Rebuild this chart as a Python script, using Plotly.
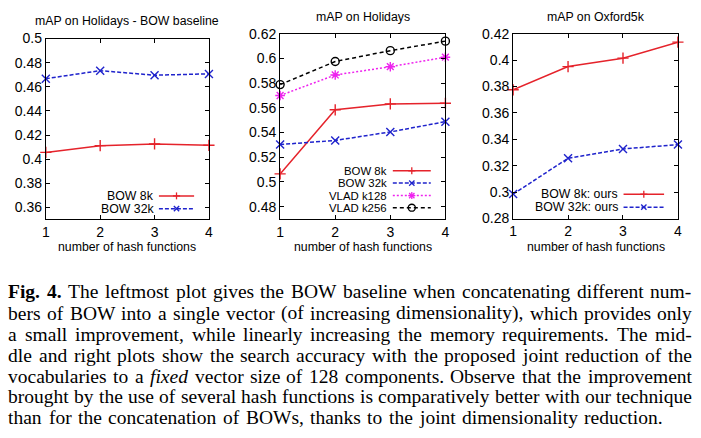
import plotly.graph_objects as go

W, H = 701, 438

# ---------------- data ----------------
hash_funcs = [1, 2, 3, 4]
x_tick_labels = ["1", "2", "3", "4"]

# left: mAP on Holidays - BOW baseline
p1_bow8k = [0.4056, 0.4112, 0.4126, 0.4115]
p1_bow32k = [0.4667, 0.4734, 0.4696, 0.4707]
p1_yticks = [0.36, 0.38, 0.40, 0.42, 0.44, 0.46, 0.48, 0.50]
p1_yticklabels = ["0.36", "0.38", "0.4", "0.42", "0.44", "0.46", "0.48", "0.5"]

# middle: mAP on Holidays
p2_bow8k = [0.5065, 0.5584, 0.5632, 0.5637]
p2_bow32k = [0.5303, 0.5336, 0.5405, 0.5488]
p2_vlad128 = [0.5700, 0.5866, 0.5933, 0.6010]
p2_vlad256 = [0.5788, 0.5975, 0.6063, 0.6140]
p2_yticks = [0.48, 0.50, 0.52, 0.54, 0.56, 0.58, 0.60, 0.62]
p2_yticklabels = ["0.48", "0.5", "0.52", "0.54", "0.56", "0.58", "0.6", "0.62"]

# right: mAP on Oxford5k
p3_bow8k = [0.3775, 0.3951, 0.4015, 0.4136]
p3_bow32k = [0.2985, 0.3256, 0.3327, 0.3360]
p3_yticks = [0.28, 0.30, 0.32, 0.34, 0.36, 0.38, 0.40, 0.42]
p3_yticklabels = ["0.28", "0.3", "0.32", "0.34", "0.36", "0.38", "0.4", "0.42"]

titles = ["mAP on Holidays - BOW baseline", "mAP on Holidays", "mAP on Oxford5k"]
xlabel = "number of hash functions"

caption_lines = [
    "Fig. 4. The leftmost plot gives the BOW baseline when concatenating different num-",
    "bers of BOW into a single vector (of increasing dimensionality), which provides only",
    "a small improvement, while linearly increasing the memory requirements. The mid-",
    "dle and right plots show the search accuracy with the proposed joint reduction of the",
    "vocabularies to a fixed vector size of 128 components. Observe that the improvement",
    "brought by the use of several hash functions is comparatively better with our technique",
    "than for the concatenation of BOWs, thanks to the joint dimensionality reduction.",
]

# ---------------- styles ----------------
RED = "#e5232b"
BLUE = "#1f23cc"
MAG = "#ee22ee"
BLK = "#000000"
styles = {
    "bow8k": dict(color=RED, dash="solid", symbol="cross-thin-open"),
    "bow32k": dict(color=BLUE, dash="4px,2px", symbol="x-thin-open"),
    "vlad128": dict(color=MAG, dash="2px,2px", symbol="asterisk-open"),
    "vlad256": dict(color=BLK, dash="4px,3px", symbol="circle-open"),
}

# panel geometry (pixels)
panels = [
    dict(x0=42.3, x1=207.3, y0=31.7, y1=219.5, yr=[0.35, 0.50], tv=p1_yticks, tt=p1_yticklabels, ty=14.0),
    dict(x0=279.3, x1=446.5, y0=26.7, y1=219.0, yr=[0.47, 0.62], tv=p2_yticks, tt=p2_yticklabels, ty=9.3),
    dict(x0=515.0, x1=681.7, y0=26.7, y1=218.5, yr=[0.28, 0.42], tv=p3_yticks, tt=p3_yticklabels, ty=9.3),
]

series = [
    (1, "BOW 8k", p1_bow8k, "bow8k"),
    (1, "BOW 32k", p1_bow32k, "bow32k"),
    (2, "BOW 8k", p2_bow8k, "bow8k"),
    (2, "BOW 32k", p2_bow32k, "bow32k"),
    (2, "VLAD k128", p2_vlad128, "vlad128"),
    (2, "VLAD k256", p2_vlad256, "vlad256"),
    (3, "BOW 8k: ours", p3_bow8k, "bow8k"),
    (3, "BOW 32k: ours", p3_bow32k, "bow32k"),
]

SANS = "Liberation Sans, Arial, sans-serif"
SERIF = "Liberation Serif, Times New Roman, serif"


def px(x):
    return x / W


def py(y):
    return 1 - y / H


fig = go.Figure()

for pi, name, vals, key in series:
    st = styles[key]
    sfx = "" if pi == 1 else str(pi)
    fig.add_trace(go.Scatter(
        x=hash_funcs, y=vals, name=name, mode="lines+markers",
        xaxis="x" + sfx, yaxis="y" + sfx,
        line=dict(color=st["color"], width=1.5, dash=st["dash"]),
        marker=dict(symbol=st["symbol"], size=8, color=st["color"],
                    line=dict(color=st["color"], width=1.4)),
        cliponaxis=False, showlegend=False,
    ))

layout = dict(
    width=W, height=H, margin=dict(l=0, r=0, t=0, b=0),
    paper_bgcolor="white", plot_bgcolor="white", showlegend=False,
)
annotations = []
shapes = []

for i, p in enumerate(panels, start=1):
    sfx = "" if i == 1 else str(i)
    common = dict(showline=True, linecolor="black", linewidth=1, mirror="ticks",
                  ticks="inside", ticklen=4, tickcolor="black", tickwidth=1,
                  showgrid=False, zeroline=False,
                  tickfont=dict(family=SANS, size=14, color="black"))
    layout["xaxis" + sfx] = dict(common, domain=[px(p["x0"]), px(p["x1"])], range=[1, 4],
                                 tickvals=hash_funcs, ticktext=x_tick_labels,
                                 anchor="y" + sfx)
    layout["yaxis" + sfx] = dict(common, domain=[py(p["y1"]), py(p["y0"])], range=p["yr"],
                                 tickvals=p["tv"], ticktext=p["tt"],
                                 anchor="x" + sfx)
    cx = (p["x0"] + p["x1"]) / 2
    annotations.append(dict(text=titles[i - 1], x=px(cx), y=py(p["ty"]), xref="paper", yref="paper",
                            xanchor="center", yanchor="middle", showarrow=False,
                            font=dict(family=SANS, size=12.3, color="black")))
    annotations.append(dict(text=xlabel, x=px(cx), y=py(247.8), xref="paper", yref="paper",
                            xanchor="center", yanchor="middle", showarrow=False,
                            font=dict(family=SANS, size=12.3, color="black")))

# ---------------- gnuplot-style keys (text, then sample) ----------------
keys = [
    dict(text_r=152.0, l0=156.7, l1=192.3, rows=[195.0, 208.3], fs=12.3,
         ents=[("BOW 8k", "bow8k"), ("BOW 32k", "bow32k")]),
    dict(text_r=387.7, l0=393.3, l1=431.7, rows=[169.0, 181.7, 194.7, 207.3], fs=11.4,
         ents=[("BOW 8k", "bow8k"), ("BOW 32k", "bow32k"), ("VLAD k128", "vlad128"), ("VLAD k256", "vlad256")]),
    dict(text_r=621.0, l0=626.7, l1=667.7, rows=[193.3, 206.7], fs=12.3,
         ents=[("BOW 8k: ours", "bow8k"), ("BOW 32k: ours", "bow32k")]),
]


def seg(xa, ya, xb, yb, color, width=1.3, dash="solid"):
    shapes.append(dict(type="line", xref="paper", yref="paper", x0=px(xa), y0=py(ya), x1=px(xb), y1=py(yb),
                       line=dict(color=color, width=width, dash=dash)))


for k in keys:
    for (label, key), yr in zip(k["ents"], k["rows"]):
        st = styles[key]
        annotations.append(dict(text=label, x=px(k["text_r"]), y=py(yr), xref="paper", yref="paper",
                                xanchor="right", yanchor="middle", showarrow=False, borderpad=0,
                                borderwidth=0, font=dict(family=SANS, size=k["fs"], color="black")))
        seg(k["l0"], yr, k["l1"], yr, st["color"], 1.5, st["dash"])
        mx = (k["l0"] + k["l1"]) / 2
        r = 3.6
        sym = st["symbol"]
        c = st["color"]
        if sym.startswith("cross") or sym.startswith("asterisk"):
            seg(mx - r, yr, mx + r, yr, c)
            seg(mx, yr - r, mx, yr + r, c)
        if sym.startswith("x") or sym.startswith("asterisk"):
            d = r * 0.75
            seg(mx - d, yr - d, mx + d, yr + d, c)
            seg(mx - d, yr + d, mx + d, yr - d, c)
        if sym.startswith("circle"):
            shapes.append(dict(type="circle", xref="paper", yref="paper",
                               x0=px(mx - r), x1=px(mx + r), y0=py(yr + r), y1=py(yr - r),
                               line=dict(color=c, width=1.3)))

# ---------------- caption (justified, word by word) ----------------
TR = {" ": 250, "(": 333, ")": 333, ",": 250, "-": 333, ".": 250, ":": 278,
      "0": 500, "1": 500, "2": 500, "3": 500, "4": 500, "5": 500, "6": 500, "7": 500, "8": 500, "9": 500,
      "A": 722, "B": 667, "C": 667, "D": 722, "E": 611, "F": 556, "G": 722, "H": 722, "I": 333,
      "O": 722, "T": 611, "V": 722, "W": 944,
      "a": 444, "b": 500, "c": 444, "d": 500, "e": 444, "f": 333, "g": 500, "h": 500, "i": 278,
      "j": 278, "k": 500, "l": 278, "m": 778, "n": 500, "o": 500, "p": 500, "q": 500, "r": 333,
      "s": 389, "t": 278, "u": 500, "v": 500, "w": 722, "x": 500, "y": 500, "z": 444}
TB = {"F": 611, "i": 278, "g": 500, ".": 250, "4": 500}
TI = {"f": 278, "i": 278, "x": 444, "e": 444, "d": 500}

FS = 19.5
WF = 1.01
LEFT, RIGHT = 4.5, 695.5
LAST_RIGHT = 666.0
line_y = [294.7, 316.6, 338.5, 360.2, 382.0, 403.7, 425.4]


def word_width(w, table):
    return sum(table.get(ch, 500) for ch in w) * FS * WF / 1000.0


for li, line in enumerate(caption_lines):
    words = line.split(" ")
    items = []
    for wi, w in enumerate(words):
        if li == 0 and wi < 2:
            items.append((f"<b>{w}</b>", word_width(w, TB)))
        elif w == "fixed":
            items.append((f"<i>{w}</i>", word_width(w, TI)))
        else:
            items.append((w, word_width(w, TR)))
    total = sum(wd for _, wd in items)
    right = RIGHT if li < len(caption_lines) - 1 else LAST_RIGHT
    gap = (right - LEFT - total) / (len(items) - 1)
    x = LEFT
    for txt, wd in items:
        annotations.append(dict(text=txt, x=px(x), y=py(line_y[li]), xref="paper", yref="paper",
                                xanchor="left", yanchor="middle", showarrow=False, borderpad=0,
                                borderwidth=0, font=dict(family=SERIF, size=FS, color="black")))
        x += wd + gap

layout["annotations"] = annotations
layout["shapes"] = shapes
fig.update_layout(**layout)

# remove the browser's default 8px body margin so the figure sits at the window origin
fig.write_html("out.html", config={"displayModeBar": False, "staticPlot": True},
               post_script="document.body.style.margin='0px';document.body.style.overflow='hidden';")
